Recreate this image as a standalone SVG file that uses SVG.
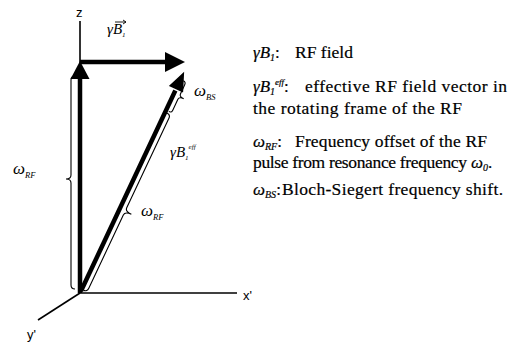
<svg xmlns="http://www.w3.org/2000/svg" width="527" height="345" viewBox="0 0 527 345">
<style>
.axis{stroke:#000;stroke-width:1.6;fill:none}
.vec{stroke:#000;stroke-width:4.5;fill:none}
.head{fill:#000}
.brace{stroke:#000;stroke-width:1.1;fill:none}
.lab{font-family:"Liberation Serif",serif;font-style:italic;fill:#000}
.ax{font-family:"Liberation Sans",Arial,sans-serif;font-size:13px;fill:#000}
.t{font-family:"Liberation Serif","Times New Roman",serif;font-size:17.5px;fill:#000;stroke:#000;stroke-width:0.2}
.s{font-family:"Liberation Serif","Times New Roman",serif;font-style:italic;fill:#000;stroke:#000;stroke-width:0.2}
</style>
<rect width="527" height="345" fill="#fff"/>
<g id="axes">
<line class="axis" x1="80" y1="21" x2="80" y2="293"/>
<line class="axis" x1="80" y1="293" x2="237" y2="293"/>
<line class="axis" x1="80" y1="293" x2="38" y2="320"/>
<text class="ax" x="76" y="17">z</text>
<text class="ax" x="243" y="300">x'</text>
<text class="ax" x="27" y="339">y'</text>
</g>
<g id="connectors">
<line class="vec" x1="80" y1="293" x2="80" y2="76"/>
<polygon class="head" points="80,61 70.5,79 89.5,79"/>
<line class="vec" x1="80" y1="62" x2="167" y2="62"/>
<polygon class="head" points="185,62 165,52 165,72"/>
<line class="vec" x1="81" y1="291" x2="177" y2="87"/>
<polygon class="head" points="185,70 183.8,93.7 167.5,86.1" stroke="#fff" stroke-width="1.5" stroke-linejoin="miter"/>
</g>
<g id="brace-wrf-left">
<path class="brace" transform="translate(71,289) rotate(-90)" d="M0,4 Q0,0 4,0 L106,0 Q110,0 110,-5 Q110,0 114,0 L209,0 Q213,0 213,4"/>
<text class="lab" x="13" y="174" font-size="17">ω</text>
<text class="lab" x="25" y="178" font-size="8.5">RF</text>
</g>
<g id="brace-wrf-diag">
<path class="brace" transform="translate(87.1,291.9) rotate(-64.78)" d="M0,-4 Q0,0 4,0 L85,0 Q89,0 89,7 Q89,0 93,0 L192,0 Q196,0 196,-4"/>
<text class="lab" x="141" y="216" font-size="17">ω</text>
<text class="lab" x="153" y="220" font-size="8.5">RF</text>
</g>
<g id="brace-wbs">
<path class="brace" transform="translate(171.5,112.9) rotate(-64.78)" d="M0,-3 Q0,0 3,0 L15,0 Q18,0 18,5 Q18,0 21,0 L31,0 Q34,0 34,-3"/>
<text class="lab" x="194" y="96" font-size="17">ω</text>
<text class="lab" x="206" y="100" font-size="8.5">BS</text>
</g>
<g id="label-b1">
<text class="lab" x="107" y="34" font-size="15">γB<tspan font-size="7" dy="3">1</tspan></text>
<path d="M115,22 L126,22 M123,20 L126,22 L123,24" stroke="#000" stroke-width="0.9" fill="none"/>
</g>
<g id="label-beff">
<text class="lab" x="170" y="157" font-size="15">γB<tspan font-size="7" dy="3">1</tspan><tspan font-size="7" dy="-11">eff</tspan></text>
</g>
<g id="legend">
<text class="s" x="253" y="58" font-size="17">γB<tspan font-size="10" dy="3">1</tspan><tspan dy="-3" font-style="normal">:</tspan></text>
<text class="t" x="295" y="58" textLength="58" lengthAdjust="spacing">RF field</text>
<text class="s" x="253" y="92" font-size="17">γB<tspan font-size="10" dy="3">1</tspan><tspan font-size="9" dy="-10">eff</tspan><tspan dy="7" font-style="normal">:</tspan></text>
<text class="t" x="305" y="92" textLength="202" lengthAdjust="spacing">effective RF field vector in</text>
<text class="t" x="253" y="114" textLength="209" lengthAdjust="spacing">the rotating frame of the RF</text>
<text class="s" x="253" y="147" font-size="17">ω<tspan font-size="10" dy="3">RF</tspan><tspan dy="-3" font-style="normal">:</tspan></text>
<text class="t" x="295" y="147" textLength="192" lengthAdjust="spacing">Frequency offset of the RF</text>
<text class="t" x="253" y="168" textLength="214" lengthAdjust="spacing">pulse from resonance frequency</text>
<text class="s" x="471" y="168" font-size="17">ω<tspan font-size="10" dy="3">0</tspan><tspan dy="-3" font-style="normal">.</tspan></text>
<text class="s" x="253" y="195" font-size="17">ω<tspan font-size="10" dy="3">BS</tspan><tspan dy="-3" font-style="normal">:</tspan></text>
<text class="t" x="282" y="195" textLength="221" lengthAdjust="spacing">Bloch-Siegert frequency shift.</text>
</g>
</svg>
